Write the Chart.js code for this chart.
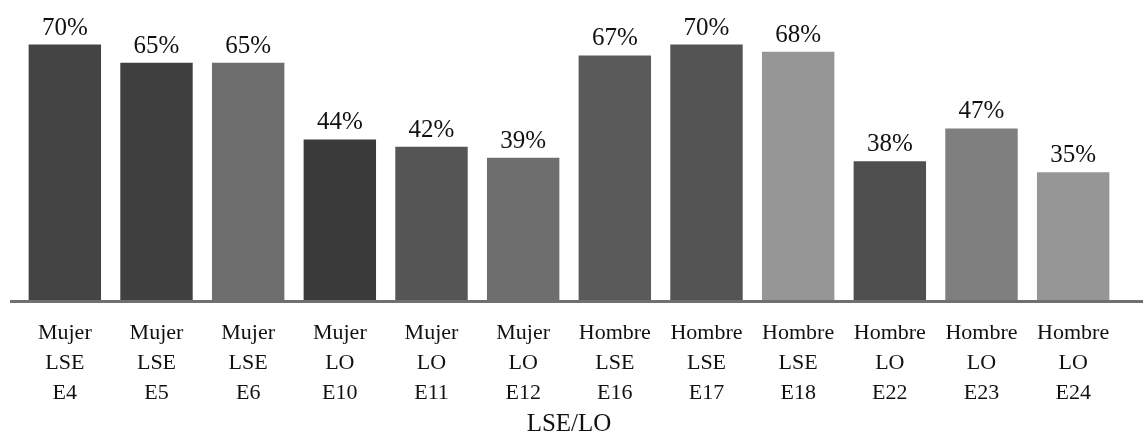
<!DOCTYPE html>
<html>
<head>
<meta charset="utf-8">
<script src="https://cdn.jsdelivr.net/npm/chart.js@4/dist/chart.umd.min.js"></script>
<style>
	html, body { margin: 0; padding: 0; background: #fff; }
	#wrap { width: 1143px; height: 438px; }
</style>
</head>
<body>
<div id="wrap"><canvas id="myChart" width="1143" height="438"></canvas></div>
<script>
const sexo = ['Mujer', 'Mujer', 'Mujer', 'Mujer', 'Mujer', 'Mujer', 'Hombre', 'Hombre', 'Hombre', 'Hombre', 'Hombre', 'Hombre']
const lengua = ['LSE', 'LSE', 'LSE', 'LO', 'LO', 'LO', 'LSE', 'LSE', 'LSE', 'LO', 'LO', 'LO']
const estudiante = ['E4', 'E5', 'E6', 'E10', 'E11', 'E12', 'E16', 'E17', 'E18', 'E22', 'E23', 'E24']
const porcentaje = [70, 65, 65, 44, 42, 39, 67, 70, 68, 38, 47, 35]
const colores = ['#444444', '#404040', '#6e6e6e', '#3a3a3a', '#555555', '#6e6e6e',
	'#5a5a5a', '#545454', '#969696', '#4f4f4f', '#7f7f7f', '#969696']

const labels = sexo.map((s, i) => [s, lengua[i], estudiante[i]])
const serif = '"Liberation Serif", "Times New Roman", serif'

// linea base y etiquetas de porcentaje sobre cada barra
const barLabels = {
	id: 'barLabels',
	afterDatasetsDraw(chart) {
		const ctx = chart.ctx
		const area = chart.chartArea
		ctx.save()
		ctx.strokeStyle = '#707070'
		ctx.lineWidth = 3
		ctx.beginPath()
		ctx.moveTo(10, area.bottom + 1.5)
		ctx.lineTo(chart.width, area.bottom + 1.5)
		ctx.stroke()

		ctx.fillStyle = '#111'
		ctx.font = '25px ' + serif
		ctx.textAlign = 'center'
		ctx.textBaseline = 'alphabetic'
		chart.getDatasetMeta(0).data.forEach((bar, i) => {
			ctx.fillText(porcentaje[i] + '%', bar.x, bar.y - 10)
		})
		ctx.restore()
	}
}

const ctx = document.getElementById('myChart').getContext('2d')
let myChart = new Chart(ctx, {
	type: 'bar',
	data: {
		labels: labels,
		datasets: [{
			data: porcentaje,
			backgroundColor: colores,
			borderWidth: 0,
			categoryPercentage: 0.79,
			barPercentage: 1
		}]
	},
	options: {
		responsive: false,
		animation: false,
		layout: {
			padding: { left: 19, right: 24, top: 8, bottom: 1 }
		},
		plugins: {
			legend: { display: false },
			tooltip: { enabled: false }
		},
		scales: {
			x: {
				grid: { display: false, drawTicks: false },
				border: { display: false },
				ticks: {
					color: '#111',
					padding: 18,
					maxRotation: 0,
					autoSkip: false,
					font: { family: serif, size: 22, lineHeight: '30px' }
				},
				title: {
					display: true,
					text: 'LSE/LO',
					color: '#111',
					padding: { top: -15, bottom: 0 },
					font: { family: serif, size: 25, lineHeight: '26px' }
				}
			},
			y: {
				display: false,
				min: 0,
				max: 80
			}
		}
	},
	plugins: [barLabels]
})
</script>
</body>
</html>
